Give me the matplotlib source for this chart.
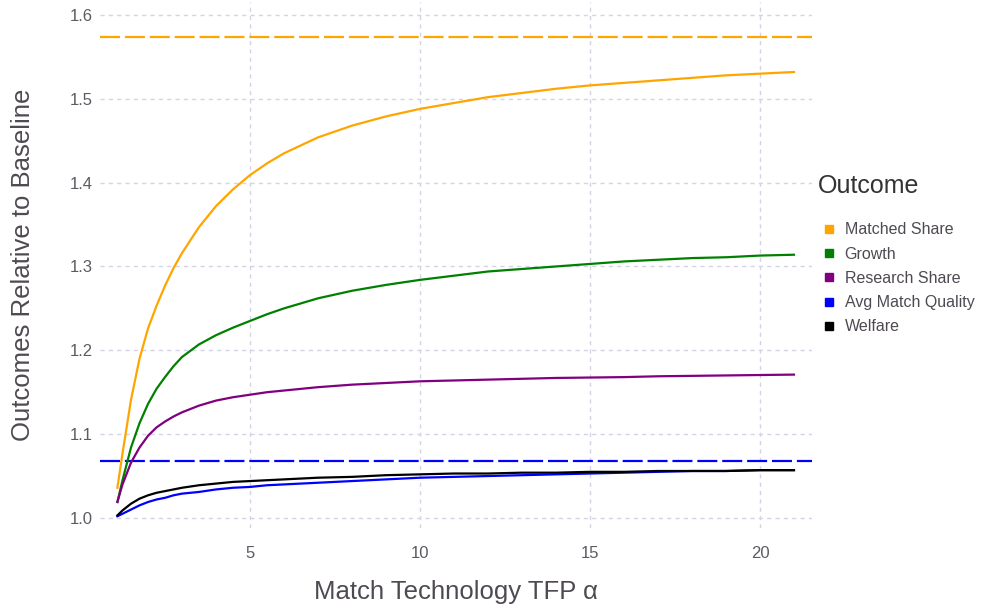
import matplotlib.pyplot as plt
from matplotlib.lines import Line2D

plt.rcParams['font.family'] = ['Liberation Sans', 'DejaVu Sans']

# match technology TFP (alpha) grid
alpha = [1.1, 1.25, 1.5, 1.75, 2.0, 2.25, 2.5, 2.75, 3.0, 3.5, 4.0, 4.5, 5, 5.5, 6, 7, 8, 9,
         10, 11, 12, 13, 14, 15, 16, 17, 18, 19, 20, 21]

matched_share = [1.036, 1.077, 1.141, 1.190, 1.226, 1.253, 1.277, 1.298, 1.316, 1.347, 1.372,
                 1.392, 1.409, 1.423, 1.435, 1.454, 1.468, 1.479, 1.488, 1.495, 1.502, 1.507,
                 1.512, 1.516, 1.519, 1.522, 1.525, 1.528, 1.530, 1.532]
growth = [1.019, 1.045, 1.084, 1.113, 1.136, 1.154, 1.168, 1.181, 1.192, 1.207, 1.218, 1.227,
          1.235, 1.243, 1.250, 1.262, 1.271, 1.278, 1.284, 1.289, 1.294, 1.297, 1.300, 1.303,
          1.306, 1.308, 1.310, 1.311, 1.313, 1.314]
research_share = [1.019, 1.040, 1.066, 1.084, 1.098, 1.108, 1.115, 1.121, 1.126, 1.134, 1.140,
                  1.144, 1.147, 1.150, 1.152, 1.156, 1.159, 1.161, 1.163, 1.164, 1.165, 1.166,
                  1.167, 1.1675, 1.168, 1.169, 1.1695, 1.170, 1.1705, 1.171]
avg_quality = [1.002, 1.005, 1.010, 1.015, 1.019, 1.022, 1.024, 1.027, 1.029, 1.031, 1.034,
               1.036, 1.037, 1.039, 1.040, 1.042, 1.044, 1.046, 1.048, 1.049, 1.050, 1.051,
               1.052, 1.053, 1.054, 1.055, 1.056, 1.056, 1.057, 1.057]
welfare = [1.003, 1.009, 1.017, 1.023, 1.027, 1.030, 1.032, 1.034, 1.036, 1.039, 1.041, 1.043,
           1.044, 1.045, 1.046, 1.048, 1.049, 1.051, 1.052, 1.053, 1.053, 1.054, 1.054, 1.055,
           1.055, 1.056, 1.056, 1.056, 1.057, 1.057]

# limits (dashed reference lines)
matched_limit = 1.574
quality_limit = 1.068

names = ['Matched Share', 'Growth', 'Research Share', 'Avg Match Quality', 'Welfare']
colors = ['#FFA500', '#008000', '#800080', '#0000FF', '#000000']
series = [matched_share, growth, research_share, avg_quality, welfare]

txt = '#4f4a52'
tick_col = '#5e5a62'

fig = plt.figure(figsize=(9.89, 6.09), dpi=100)
ax = fig.add_axes([100/989, 1 - 528/609, 712/989, 526/609])

ax.axhline(matched_limit, color=colors[0], lw=1.6, dashes=(9, 2.2), zorder=2)
ax.axhline(quality_limit, color=colors[3], lw=1.6, dashes=(9, 2.2), zorder=2)

for y, c in zip(series, colors):
    ax.plot(alpha, y, color=c, lw=1.6, zorder=3)

ax.set_xlim(0.588, 21.53)
ax.set_ylim(0.988, 1.6155)
ax.set_xticks([5, 10, 15, 20])
ax.set_yticks([1.0, 1.1, 1.2, 1.3, 1.4, 1.5, 1.6])
ax.grid(True, color='#d4d4e6', lw=1, dashes=(3, 3))
ax.set_axisbelow(True)
for s in ax.spines.values():
    s.set_visible(False)
ax.tick_params(length=0, labelsize=12, labelcolor=tick_col, pad=5)
ax.tick_params(axis='x', pad=13)

ax.set_xlabel('Match Technology TFP α', fontsize=18.5, color=txt, labelpad=14)
ax.set_ylabel('Outcomes Relative to Baseline', fontsize=18.5, color=txt, labelpad=25)

fig.text(818/989, 1 - 186/609, 'Outcome', fontsize=18, color='#333333', va='center', ha='left')

handles = [Line2D([], [], marker='s', ls='none', color=c, markersize=5.5) for c in colors]
leg = fig.legend(handles, names, loc='upper left', bbox_to_anchor=(808/989, 1 - 208/609),
                 frameon=False, fontsize=11.5, handlelength=0.8, handletextpad=0.6,
                 labelspacing=0.58, labelcolor=txt)

fig.savefig('out.png', dpi=100)
